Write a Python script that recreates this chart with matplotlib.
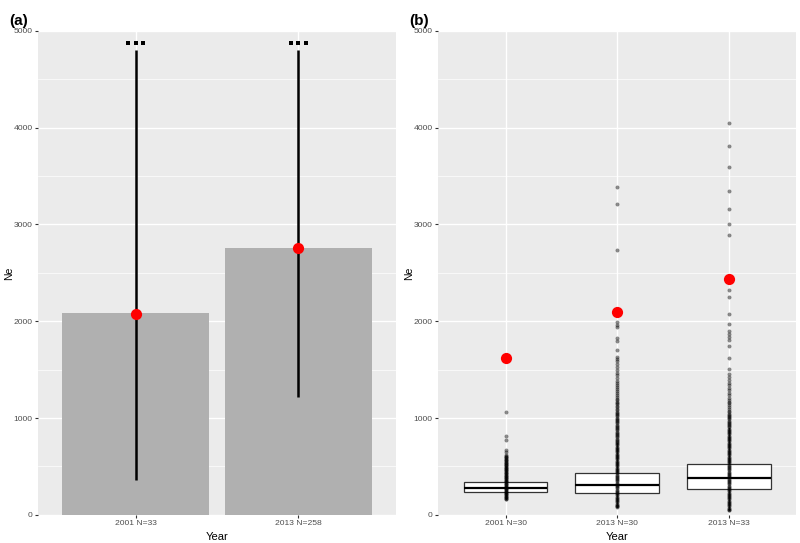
import matplotlib
matplotlib.use("Agg")
import matplotlib.pyplot as plt
from matplotlib.ticker import MultipleLocator

plt.rcParams['font.family'] = ['Liberation Sans', 'DejaVu Sans']

# ---------------- data: panel (a) ----------------
a_labels = ["2001 N=33", "2013 N=258"]
a_bar = [2080, 2760]
a_point = [2077, 2760]
a_low = [355, 1220]
a_high = [4800, 4800]
a_dots_y = 4877

# ---------------- data: panel (b) ----------------
b_labels = ["2001 N=30", "2013 N=30", "2013 N=33"]
b_med = [277, 311, 377]
b_q1 = [233, 226, 267]
b_q3 = [339, 434, 520]
b_whislo = [161, 82, 48]
b_whishi = [495, 740, 900]
b_point = [1615, 2094, 2440]

g1_ne = [1057, 814, 770, 674, 647, 613, 606, 600, 592, 585, 578, 570, 562, 555,
         548, 540, 532, 525, 518, 510, 502, 495, 488, 480, 472, 465, 458, 450,
         442, 435, 428, 420, 412, 405, 398, 390, 382, 375, 368, 360, 352, 345,
         338, 330, 322, 315, 308, 300, 292, 285, 278, 270, 262, 255, 248, 240,
         232, 225, 218, 210, 202, 195, 188, 180, 172, 165, 161]

g2_ne = [3388, 3207, 2738, 1992, 1964, 1937, 1827, 1800, 1707, 1632, 1610, 1590,
         1560, 1530, 1500, 1470, 1440, 1417, 1386, 1360, 1340, 1320, 1300, 1280,
         1260, 1240, 1220, 1200, 1185, 1170, 1155, 1140, 1125, 1110, 1095, 1080,
         1065, 1050, 1040, 1028, 1016, 1004, 992, 980, 968, 956, 944, 932, 920,
         908, 896, 884, 872, 860, 848, 836, 824, 812, 800, 788, 776, 764, 752,
         740, 728, 716, 704, 692, 680, 668, 656, 644, 632, 620, 608, 596, 584,
         572, 560, 548, 536, 524, 512, 500, 488, 476, 464, 452, 440, 428, 416,
         404, 392, 380, 368, 356, 344, 332, 320, 308, 296, 284, 272, 260, 248,
         236, 224, 212, 200, 188, 176, 164, 152, 140, 128, 116, 104, 94, 88, 82]

g3_ne = [4045, 3809, 3597, 3344, 3159, 3005, 2888, 2320, 2248, 2074, 1975, 1900,
         1870, 1840, 1810, 1742, 1622, 1509, 1450, 1420, 1390, 1360, 1340, 1310,
         1290, 1260, 1240, 1210, 1190, 1170, 1150, 1130, 1109, 1090, 1075, 1060,
         1045, 1034, 1022, 1010, 998, 986, 974, 962, 950, 938, 926, 914, 902,
         890, 878, 866, 854, 842, 830, 818, 806, 794, 782, 770, 758, 746, 734,
         722, 710, 698, 686, 674, 662, 650, 638, 626, 614, 602, 590, 578, 566,
         554, 542, 530, 518, 506, 494, 482, 470, 458, 446, 434, 422, 410, 398,
         386, 374, 362, 350, 338, 326, 314, 302, 290, 278, 266, 254, 242, 230,
         218, 206, 194, 182, 170, 158, 146, 134, 122, 110, 98, 86, 74, 62, 54, 48]

b_groups = [g1_ne, g2_ne, g3_ne]

# ---------------- styling helpers ----------------
PANEL = "#EBEBEB"
TICKC = "#4D4D4D"

fig = plt.figure(figsize=(8.0, 5.43), dpi=100)
axA = fig.add_axes([0.0475, 0.052, 0.4475, 0.891])
axB = fig.add_axes([0.548, 0.052, 0.4475, 0.891])


def style(ax, n):
    ax.set_facecolor(PANEL)
    for s in ax.spines.values():
        s.set_visible(False)
    ax.set_ylim(0, 5000)
    ax.set_xlim(0.4, n + 0.6)
    ax.yaxis.set_major_locator(MultipleLocator(1000))
    ax.yaxis.set_minor_locator(MultipleLocator(500))
    ax.grid(which="major", color="white", linewidth=1.0)
    ax.grid(which="minor", axis="y", color="white", linewidth=0.5)
    ax.set_axisbelow(True)
    ax.tick_params(axis="both", which="major", length=2.5, width=0.8,
                   color="#333333", labelsize=6.1, labelcolor=TICKC, pad=1.5)
    ax.tick_params(axis="both", which="minor", length=0)
    ax.set_xticks(range(1, n + 1))


# ---------------- panel (a) ----------------
style(axA, 2)
xa = list(range(1, len(a_labels) + 1))
axA.bar(xa, a_bar, width=0.9, color="#B0B0B0", zorder=2)
axA.vlines(xa, a_low, a_high, color="black", linewidth=1.8, zorder=3)
axA.scatter(xa, a_point, s=65, color="red", zorder=4, linewidths=0)
for x in xa:
    axA.scatter([x - 0.045, x, x + 0.045], [a_dots_y] * 3, marker="s", s=5,
                color="black", zorder=4, linewidths=0)
axA.set_xticklabels(a_labels)

# ---------------- panel (b) ----------------
style(axB, 3)
xb = list(range(1, len(b_labels) + 1))
stats = []
for i in range(len(b_labels)):
    stats.append(dict(med=b_med[i], q1=b_q1[i], q3=b_q3[i],
                      whislo=b_whislo[i], whishi=b_whishi[i], fliers=[]))
axB.bxp(stats, positions=xb, widths=0.75, patch_artist=True, showcaps=False,
        boxprops=dict(facecolor="white", edgecolor="#333333", linewidth=0.9),
        medianprops=dict(color="black", linewidth=1.6),
        whiskerprops=dict(color="#333333", linewidth=0.9),
        manage_ticks=False, zorder=2)
for x, g in zip(xb, b_groups):
    axB.scatter([x] * len(g), g, s=8, color="black", alpha=0.45,
                linewidths=0, zorder=3)
axB.scatter(xb, b_point, s=65, color="red", zorder=4, linewidths=0)
axB.set_xticks(xb)
axB.set_xticklabels(b_labels)

# titles and axis labels placed in figure coordinates
fig.text(0.012, 0.975, "(a)", fontsize=11, fontweight="bold", va="top")
fig.text(0.512, 0.975, "(b)", fontsize=11, fontweight="bold", va="top")
fig.text(0.011, 0.497, "Ne", fontsize=7.5, rotation=90, ha="center", va="center")
fig.text(0.5115, 0.497, "Ne", fontsize=7.5, rotation=90, ha="center", va="center")
fig.text(0.2713, 0.002, "Year", fontsize=8, ha="center", va="bottom")
fig.text(0.7717, 0.002, "Year", fontsize=8, ha="center", va="bottom")

fig.savefig("out.png", dpi=100)
